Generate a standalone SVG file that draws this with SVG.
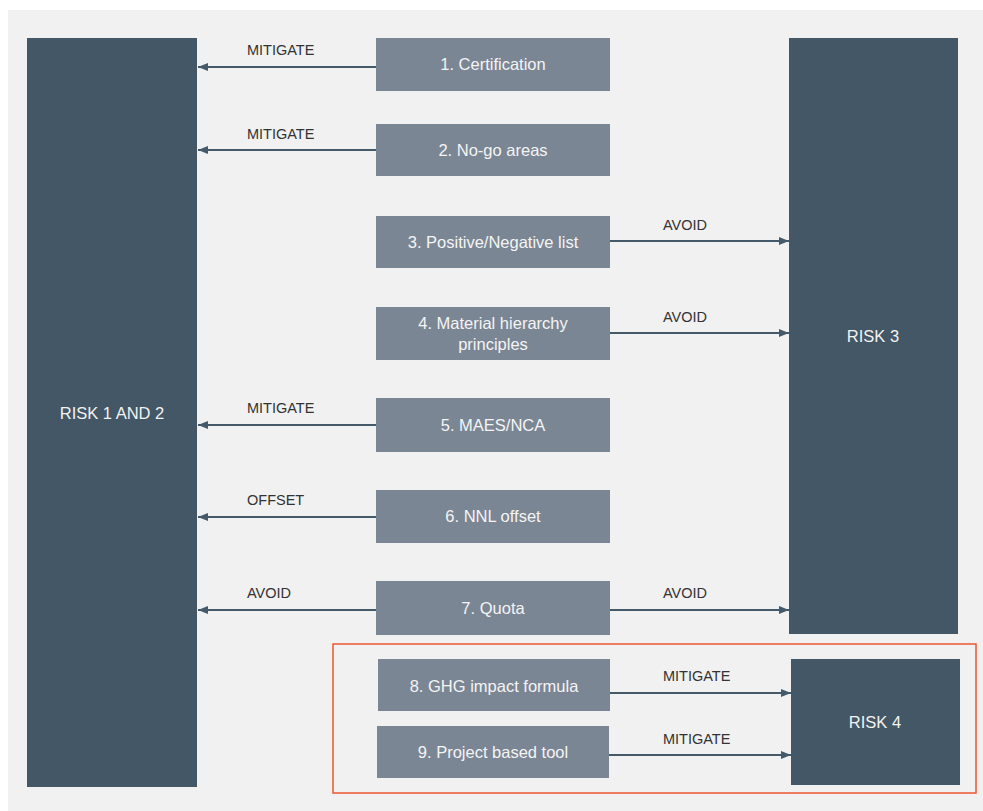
<svg xmlns="http://www.w3.org/2000/svg" width="983" height="811" viewBox="0 0 983 811">
<style>
.bg{fill:#f1f1f1}
.risk{fill:#435766}
.act{fill:#7b8694}
.rt{font-family:"Liberation Sans",Arial,sans-serif;font-size:16.5px;fill:#f2f2f2;text-anchor:middle}
.bt{font-family:"Liberation Sans",Arial,sans-serif;font-size:16.5px;fill:#f4f4f4;text-anchor:middle}
.lb{font-family:"Liberation Sans",Arial,sans-serif;font-size:14.5px;fill:#333333}
.cn{stroke:#44596a;stroke-width:2;fill:none;marker-end:url(#ah)}
</style>
<defs>
<marker id="ah" viewBox="0 0 10 10" refX="10" refY="5" markerWidth="10" markerHeight="10" markerUnits="userSpaceOnUse" orient="auto">
<path d="M0,1 L10,5 L0,9 Z" fill="#44596a"/>
</marker>
</defs>
<rect x="0" y="0" width="983" height="811" fill="#ffffff"/>
<rect class="bg" x="8" y="10" width="975" height="801"/>
<g id="risk12"><rect class="risk" x="27" y="38" width="170" height="749"/><text class="rt" x="112" y="419">RISK 1 AND 2</text></g>
<g id="risk3"><rect class="risk" x="789" y="38" width="169" height="596"/><text class="rt" x="873" y="342">RISK 3</text></g>
<g id="frame4"><rect x="333" y="644" width="643" height="149" fill="none" stroke="#ef5530" stroke-width="1.5"/></g>
<g id="risk4"><rect class="risk" x="791" y="659" width="169" height="126"/><text class="rt" x="875" y="728">RISK 4</text></g>
<g id="n1"><rect class="act" x="376" y="38" width="234" height="53"/><text class="bt" x="493" y="70">1. Certification</text></g>
<g id="n2"><rect class="act" x="376" y="124" width="234" height="52"/><text class="bt" x="493" y="156">2. No-go areas</text></g>
<g id="n3"><rect class="act" x="376" y="216" width="234" height="52"/><text class="bt" x="493" y="248">3. Positive/Negative list</text></g>
<g id="n4"><rect class="act" x="376" y="307" width="234" height="53"/><text class="bt" x="493" y="329">4. Material hierarchy</text><text class="bt" x="493" y="350">principles</text></g>
<g id="n5"><rect class="act" x="376" y="398" width="234" height="54"/><text class="bt" x="493" y="431">5. MAES/NCA</text></g>
<g id="n6"><rect class="act" x="376" y="490" width="234" height="53"/><text class="bt" x="493" y="522">6. NNL offset</text></g>
<g id="n7"><rect class="act" x="376" y="581" width="234" height="54"/><text class="bt" x="493" y="614">7. Quota</text></g>
<g id="n8"><rect class="act" x="378" y="659" width="232" height="52"/><text class="bt" x="494" y="692">8. GHG impact formula</text></g>
<g id="n9"><rect class="act" x="377" y="726" width="232" height="52"/><text class="bt" x="493" y="758">9. Project based tool</text></g>
<g id="connectors">
<path class="cn" d="M376,67 H198"/>
<path class="cn" d="M376,150 H198"/>
<path class="cn" d="M610,241 H789"/>
<path class="cn" d="M610,333 H789"/>
<path class="cn" d="M376,425 H198"/>
<path class="cn" d="M376,517 H198"/>
<path class="cn" d="M376,610 H198"/>
<path class="cn" d="M610,610 H789"/>
<path class="cn" d="M610,693 H791"/>
<path class="cn" d="M609,755 H791"/>
<text class="lb" x="247" y="55">MITIGATE</text>
<text class="lb" x="247" y="139">MITIGATE</text>
<text class="lb" x="663" y="230">AVOID</text>
<text class="lb" x="663" y="322">AVOID</text>
<text class="lb" x="247" y="413">MITIGATE</text>
<text class="lb" x="247" y="505">OFFSET</text>
<text class="lb" x="247" y="598">AVOID</text>
<text class="lb" x="663" y="598">AVOID</text>
<text class="lb" x="663" y="681">MITIGATE</text>
<text class="lb" x="663" y="744">MITIGATE</text>
</g>
</svg>
